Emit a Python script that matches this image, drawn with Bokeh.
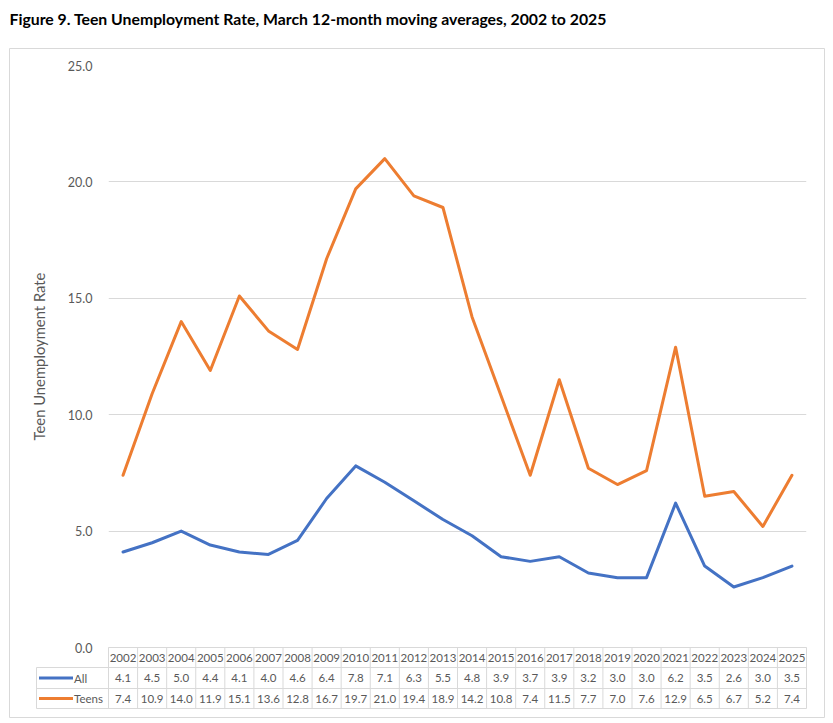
import math
from bokeh.plotting import figure
from bokeh.models import FixedTicker, NumeralTickFormatter, Range1d
from bokeh.core.properties import value
from bokeh.embed import file_html
from bokeh.resources import INLINE

# ---------------- data ----------------
years = list(range(2002, 2026))
year_labels = [str(y) for y in years]
all_rate = [4.1, 4.5, 5.0, 4.4, 4.1, 4.0, 4.6, 6.4, 7.8, 7.1, 6.3, 5.5,
            4.8, 3.9, 3.7, 3.9, 3.2, 3.0, 3.0, 6.2, 3.5, 2.6, 3.0, 3.5]
teens_rate = [7.4, 10.9, 14.0, 11.9, 15.1, 13.6, 12.8, 16.7, 19.7, 21.0, 19.4, 18.9,
              14.2, 10.8, 7.4, 11.5, 7.7, 7.0, 7.6, 12.9, 6.5, 6.7, 5.2, 7.4]
y_ticks = [0, 5, 10, 15, 20, 25]
series_names = ["All", "Teens"]
title_text = "Figure 9. Teen Unemployment Rate, March 12-month moving averages, 2002 to 2025"
y_title = "Teen Unemployment Rate"

# ---------------- styles / layout ----------------
BLUE = "#4472C4"
ORANGE = "#ED7D31"
GRID = "#d9d9d9"
TXT = "#595959"
FONT = "Lato"

W, H = 833, 723
FL, FT = 108, 65
frame_w, frame_h = 698, 643
FR = W - FL - frame_w
FB = H - FT - frame_h
x0, x1 = years[0] - 0.5, years[-1] + 0.5
px_per_x = frame_w / (x1 - x0)
zero_px = 647.0
px_per_y = (zero_px - FT) / (y_ticks[-1] - y_ticks[0])
y_end = y_ticks[-1]
y_start = -(FT + frame_h - zero_px) / px_per_y

def dx(cx):  # canvas x px -> data x
    return x0 + (cx - FL) / px_per_x

def dy(cy):  # canvas y px -> data y
    return (zero_px - cy) / px_per_y

p = figure(width=W, height=H, output_backend="svg", toolbar_location=None,
           x_range=Range1d(x0, x1), y_range=Range1d(y_start, y_end),
           min_border_left=FL, min_border_right=FR, min_border_top=FT,
           min_border_bottom=FB, x_axis_location=None)
p.outline_line_color = None
p.background_fill_color = "white"
p.border_fill_color = "white"
p.xgrid.visible = False

ax = p.yaxis[0]
ax.ticker = FixedTicker(ticks=y_ticks)
ax.formatter = NumeralTickFormatter(format="0.0")
ax.axis_line_color = None
ax.major_tick_line_color = None
ax.minor_tick_line_color = None
ax.major_label_standoff = 10
ax.major_label_text_font = FONT
ax.major_label_text_font_size = "12.5px"
ax.major_label_text_color = TXT
p.ygrid.ticker = FixedTicker(ticks=y_ticks)
p.ygrid.grid_line_color = GRID

# chart title
p.text(x=[dx(9)], y=[dy(18)], text=[title_text], text_align="left",
       text_baseline="middle", text_font=value(FONT), text_font_size="15.8px",
       text_font_style="bold", text_color="black", level="overlay")

# y-axis title, centred on the value scale (0 to 25)
p.text(x=[dx(38)], y=[(y_ticks[0] + y_ticks[-1]) / 2], text=[y_title], angle=math.pi / 2,
       text_align="center", text_baseline="middle", text_font=value(FONT),
       text_font_size="14.8px", text_color=TXT, level="overlay")

# ---------------- lines ----------------
p.line(years, all_rate, line_color=BLUE, line_width=3, line_join="round", line_cap="round")
p.line(years, teens_rate, line_color=ORANGE, line_width=3, line_join="round", line_cap="round")

# ---------------- data table ----------------
row_edges = [dy(647), dy(667), dy(688), dy(708)]
row_mid = [(row_edges[i] + row_edges[i + 1]) / 2 for i in range(3)]
leg_left = dx(36)

vx = [x0 + i for i in range(len(years) + 1)]
p.segment(x0=vx, y0=[row_edges[0]] * len(vx), x1=vx, y1=[row_edges[3]] * len(vx),
          line_color=GRID, line_width=1, level="overlay")
p.segment(x0=[x0, leg_left, leg_left, leg_left], y0=row_edges,
          x1=[x1] * 4, y1=row_edges, line_color=GRID, line_width=1, level="overlay")
p.segment(x0=[leg_left], y0=[row_edges[1]], x1=[leg_left], y1=[row_edges[3]],
          line_color=GRID, line_width=1, level="overlay")

tfs = "11.5px"
p.text(x=years, y=[row_mid[0]] * len(years), text=year_labels, text_align="center",
       text_baseline="middle", text_font=value(FONT), text_font_size=tfs,
       text_color=TXT, level="overlay")
p.text(x=years, y=[row_mid[1]] * len(years), text=[f"{v:.1f}" for v in all_rate],
       text_align="center", text_baseline="middle", text_font=value(FONT),
       text_font_size=tfs, text_color=TXT, level="overlay")
p.text(x=years, y=[row_mid[2]] * len(years), text=[f"{v:.1f}" for v in teens_rate],
       text_align="center", text_baseline="middle", text_font=value(FONT),
       text_font_size=tfs, text_color=TXT, level="overlay")

p.segment(x0=[dx(38.5)] * 2, y0=row_mid[1:], x1=[dx(72.5)] * 2, y1=row_mid[1:],
          line_color=[BLUE, ORANGE], line_width=3, level="overlay")
p.text(x=[dx(73.5)] * 2, y=row_mid[1:], text=series_names, text_align="left",
       text_baseline="middle", text_font=value(FONT), text_font_size=tfs,
       text_color=TXT, level="overlay")

# outer chart border
p.quad(left=[dx(9)], right=[dx(824)], top=[dy(48)], bottom=[dy(717)],
       fill_color=None, line_color=GRID, line_width=1, level="overlay")

open("out.html", "w").write(file_html(p, INLINE))
